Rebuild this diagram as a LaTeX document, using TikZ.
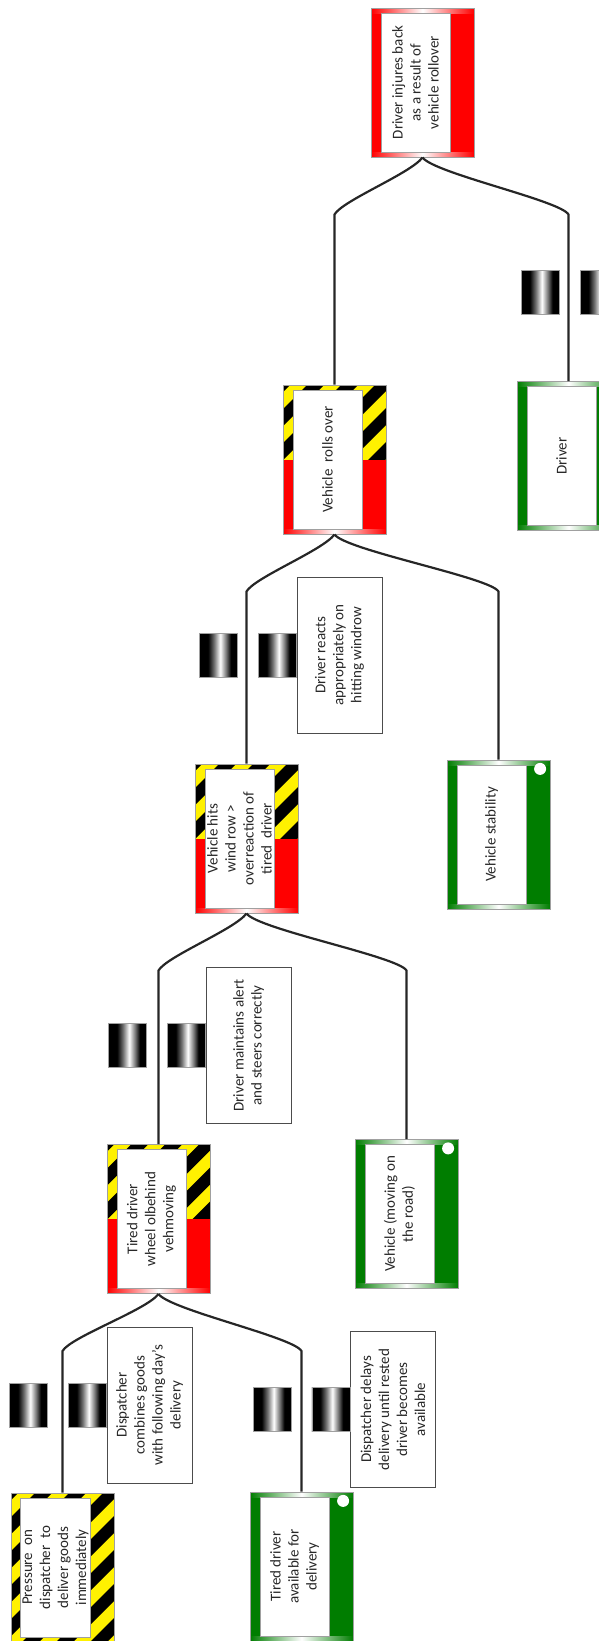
\documentclass[tikz,border=0pt]{standalone}
\usepackage{tikz}
\usepackage{xcolor}
\usepackage{fontspec}
\setmainfont{Carlito}
\usetikzlibrary{positioning, calc}
\definecolor{evred}  {RGB}{255,0,0}
\definecolor{evgreen}{RGB}{0,125,0}
\definecolor{hzyel}  {RGB}{255,241,0}
\definecolor{lgray}  {RGB}{160,160,160}
\definecolor{tgray}  {RGB}{40,40,40}

\pgfdeclarehorizontalshading{barshade}{100bp}{color(0bp)=(black);
  color(36bp)=(black); color(44bp)=(black!55); color(52bp)=(white);
  color(60bp)=(black!55); color(66bp)=(black); color(100bp)=(black)}

\newcommand{\hzstripes}{%
  \fill[hzyel] (path picture bounding box.south west) rectangle (path picture bounding box.north east);
  \foreach \k in {-6,...,6}
    \fill[black] (path picture bounding box.center) ++(\k*34pt-90pt,-90pt)
      -- ++(17pt,0pt) -- ++(180pt,180pt) -- ++(-17pt,0pt) -- cycle;}
\newcommand{\botband}[1]{%
  \shade[left color=#1, right color=#1, middle color=white]
    (path picture bounding box.south west) rectangle ([yshift=5pt]path picture bounding box.south east);}
\newcommand{\topband}[1]{%
  \shade[left color=#1, right color=#1, middle color=white]
    ([yshift=-5pt]path picture bounding box.north west) rectangle (path picture bounding box.north east);}

\tikzset{
  evbox/.style={draw=lgray, line width=1pt, minimum width=103pt,
                minimum height=149pt, inner sep=0pt},
  redev/.style={evbox, fill=evred, path picture={\topband{evred}\botband{evred}}},
  hazev/.style={evbox, path picture={\hzstripes}},
  hzredev/.style={evbox, path picture={\hzstripes
      \fill[evred] (path picture bounding box.west) rectangle (path picture bounding box.south east);
      \botband{evred}}},
  greenev/.style={evbox, fill=evgreen, path picture={\topband{evgreen}\botband{evgreen}}},
  evtext/.style={rotate=90, fill=white, draw=lgray, line width=0.6pt,
                 minimum width=139pt, minimum height=69pt, inner sep=2pt,
                 align=center, text=tgray, font=\fontsize{15}{18}\selectfont},
  ctrlbox/.style={rotate=90, fill=white, draw=black!70, line width=0.8pt,
                  minimum width=156pt, minimum height=85pt, inner sep=2pt,
                  align=center, text=tgray, font=\fontsize{15}{18}\selectfont},
  barrier/.style={minimum width=38pt, minimum height=44pt, inner sep=0pt,
                  draw=lgray, line width=0.6pt, shade, shading=barshade},
  okdot/.style={circle, fill=white, minimum size=12pt, inner sep=0pt},
  brl/.style={to path={.. controls +(-12,16) and +(8,-14)
      .. ($(\tikztostart -| \tikztotarget)+(0,57)$) -- (\tikztotarget)}},
  brr/.style={to path={.. controls +(12,16) and +(-8,-14)
      .. ($(\tikztostart -| \tikztotarget)+(0,57)$) -- (\tikztotarget)}},
  link/.style={line width=2.2pt, draw=black!85, line join=round},
}

\begin{document}
\begin{tikzpicture}[x=1pt, y=-1pt]
  \useasboundingbox (0,0) rectangle (599,1641);

  % events
  \node[redev]   (top)     at (422.5,82.5)  {};
  \node[hzredev] (vroll)   at (334.5,459.5) {};
  \node[greenev] (driver)  at (568.5,456)   {};
  \node[hzredev] (windrow) at (246.5,838.5) {};
  \node[greenev] (vstab)   at (498.5,834.5) {};
  \node[hzredev] (tired)   at (158.5,1219)  {};
  \node[greenev] (vmove)   at (406.5,1214)  {};
  \node[hazev]   (press)   at (62.5,1567.5) {};
  \node[greenev] (tavail)  at (301.5,1566.5) {};

  \node[evtext] (top-t)     at ([xshift=-7pt]top.center)
    {Driver injures back\\as a result of\\vehicle rollover};
  \node[evtext] (vroll-t)   at ([xshift=-7pt]vroll.center) {Vehicle~ rolls over};
  \node[evtext] (driver-t)  at ([xshift=-7pt]driver.center) {Driver};
  \node[evtext] (windrow-t) at ([xshift=-7pt]windrow.center)
    {Vehicle hits\\wind row >\\overreaction of\\tired~ driver};
  \node[evtext] (vstab-t)   at ([xshift=-7pt]vstab.center) {Vehicle stability};
  \node[evtext] (tired-t)   at ([xshift=-7pt]tired.center)
    {Tired driver\\wheel olbehind\\vehmoving};
  \node[evtext] (vmove-t)   at ([xshift=-7pt]vmove.center) {Vehicle (moving on\\the road)};
  \node[evtext] (press-t)   at ([xshift=-7pt]press.center)
    {Pressure~ on\\dispatcher~ to\\deliver goods\\immediately};
  \node[evtext] (tavail-t)  at ([xshift=-7pt]tavail.center)
    {Tired driver\\available for\\delivery};

  \node[okdot, below left=5pt and 6pt of vstab.north east]  (vstab-dot)  {};
  \node[okdot, below left=5pt and 6pt of vmove.north east]  (vmove-dot)  {};
  \node[okdot, below left=5pt and 6pt of tavail.north east] (tavail-dot) {};

  % controls
  \node[barrier] (drv-b2) at (599,292) {};
  \node[barrier, left=20pt of drv-b2] (drv-b1) {};

  \node[ctrlbox] (react) at (339.5,655)
    {Driver reacts\\appropriately on\\hitting windrow};
  \node[barrier, left=0pt of react.north] (react-b2) {};
  \node[barrier, left=20pt of react-b2] (react-b1) {};

  \node[ctrlbox] (alert) at (248.5,1045.5)
    {Driver maintains alert\\and steers correctly};
  \node[barrier, left=0pt of alert.north] (alert-b2) {};
  \node[barrier, left=20pt of alert-b2] (alert-b1) {};

  \node[ctrlbox] (comb) at (149.5,1405)
    {Dispatcher\\combines goods\\with following day’s\\delivery};
  \node[barrier, left=0pt of comb.north] (comb-b2) {};
  \node[barrier, left=20pt of comb-b2] (comb-b1) {};

  \node[ctrlbox] (delay) at (393,1409.5)
    {Dispatcher delays\\delivery until rested\\driver becomes\\available};
  \node[barrier, left=0pt of delay.north] (delay-b2) {};
  \node[barrier, left=20pt of delay-b2] (delay-b1) {};

  % links
  \draw[link] (top.south) to[brl] (vroll.north);
  \draw[link] (top.south) to[brr] (driver.north);
  \draw[link] (vroll.south) to[brl] (windrow.north);
  \draw[link] (vroll.south) to[brr] (vstab.north);
  \draw[link] (windrow.south) to[brl] (tired.north);
  \draw[link] (windrow.south) to[brr] (vmove.north);
  \draw[link] (tired.south) to[brl] (press.north);
  \draw[link] (tired.south) to[brr] (tavail.north);
\end{tikzpicture}
\end{document}
